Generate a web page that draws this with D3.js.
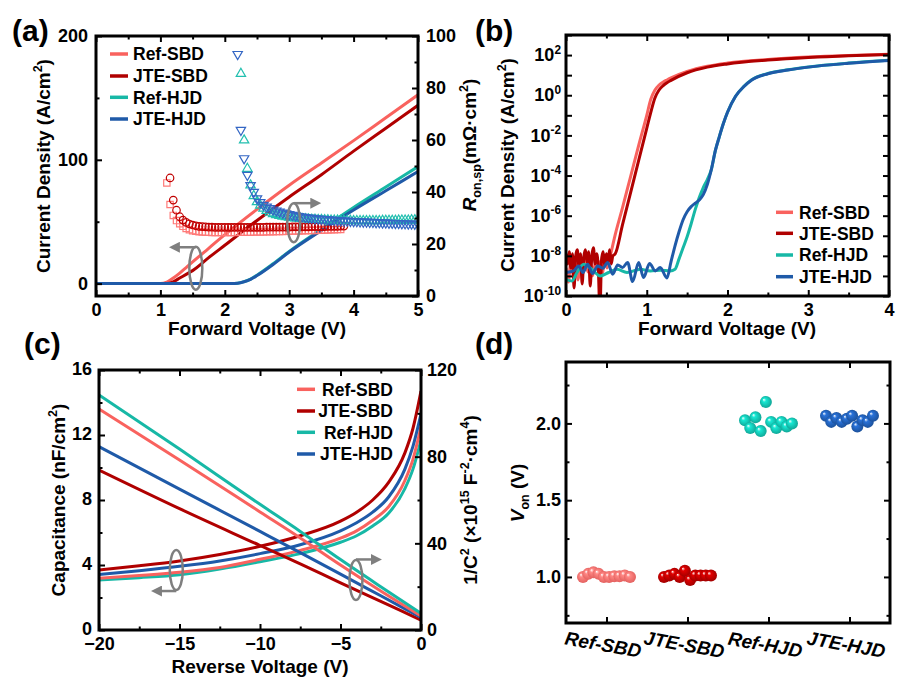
<!DOCTYPE html>
<html>
<head>
<meta charset="utf-8">
<script src="https://cdn.jsdelivr.net/npm/d3@7"></script>
<style>
  body { margin: 0; background: #fff; }
  svg { display: block; }
</style>
</head>
<body>
<svg id="fig" width="908" height="680"></svg>
<script>
// ---- data ----
var devices = ["Ref-SBD", "JTE-SBD", "Ref-HJD", "JTE-HJD"];
var lineColors = ["#F9625E", "#B00000", "#17B8A6", "#1F5AA8"];
var markColors = ["#FF7A78", "#C00000", "#22BFAF", "#3366C4"];

// (a) J-V, linear  [V, J (A/cm2)]
var aJ_RefSBD = [[0,0],[1.0,0],[1.1,1.2],[1.2,4.5],[1.3,8.5],[1.4,13],[1.5,17.5],[1.75,28.5],[2,39.5],[2.5,60],[3,79.5],[3.5,97.5],[4,115.5],[4.5,134],[5,152.5]];
var aJ_JTESBD = [[0,0],[1.1,0],[1.2,1.5],[1.3,4.5],[1.4,7.5],[1.5,10.5],[1.75,21],[2,31],[2.5,51],[3,70],[3.5,88],[4,107],[4.5,125.5],[5,144]];
var aJ_RefHJD = [[0,0],[2.1,0],[2.2,0.3],[2.3,1.6],[2.4,3.7],[2.5,6.8],[2.75,16],[3,26],[3.5,44],[4,61.5],[4.5,78],[5,94.5]];
var aJ_JTEHJD = [[0,0],[2.1,0],[2.2,0.3],[2.3,1.5],[2.4,3.5],[2.5,6.5],[2.75,15.5],[3,25.5],[3.5,43],[4,59.5],[4.5,75],[5,90.5]];

// (a) Ron,sp markers, sampled every 0.05 V from a start voltage
var ronStep = 0.05;
var ronStart = [1.10, 1.15, 2.25, 2.20];
var aRon_RefSBD = [43.5,35.2,31.0,29.0,27.8,26.8,26.0,25.5,25.1,24.9,
  24.7,24.6,24.5,24.5,24.4,24.4,24.4,24.4,24.4,24.4,
  24.4,24.4,24.5,24.5,24.5,24.5,24.5,24.6,24.6,24.6,
  24.6,24.7,24.7,24.7,24.8,24.8,24.8,24.9,24.9,25.0,
  25.0,25.0,25.1,25.1,25.2,25.2,25.2,25.3,25.3,25.4,
  25.4,25.5,25.5,25.6,25.6];
var aRon_JTESBD = [45.4,36.9,33.0,30.5,29.2,28.3,27.7,27.3,27.0,26.8,
  26.7,26.6,26.5,26.5,26.4,26.4,26.4,26.4,26.4,26.4,
  26.4,26.4,26.4,26.4,26.4,26.4,26.4,26.4,26.4,26.4,
  26.5,26.5,26.5,26.5,26.5,26.5,26.5,26.5,26.6,26.6,
  26.6,26.6,26.6,26.6,26.7,26.7,26.7,26.7,26.7,26.8,
  26.8,26.8,26.8,26.9,26.9];
var aRon_RefHJD = [85.5,59.9,49.0,42.6,38.5,36.2,34.8,33.7,32.8,32.1,
  31.6,31.2,30.9,30.6,30.4,30.2,30.0,29.9,29.8,29.7,
  29.6,29.5,29.4,29.4,29.3,29.3,29.2,29.2,29.1,29.1,
  29.1,29.0,29.0,29.0,29.0,28.9,28.9,28.9,28.9,28.9,
  28.9,28.9,28.9,28.9,29.0,29.0,29.0,29.0,29.0,29.1,
  29.1,29.1,29.1,29.2,29.2,29.2];
var aRon_JTEHJD = [93.0,63.8,52.9,46.5,42.6,40.0,37.5,36.0,35.0,34.3,
  33.7,33.2,32.8,32.4,32.0,31.7,31.4,31.1,30.9,30.7,
  30.5,30.3,30.1,30.0,29.8,29.7,29.6,29.5,29.4,29.3,
  29.2,29.1,29.0,28.9,28.9,28.8,28.7,28.7,28.6,28.5,
  28.5,28.4,28.4,28.3,28.3,28.2,28.2,28.1,28.1,28.0,
  28.0,27.9,27.9,27.8,27.8,27.7,27.7];

// (b) J-V, log  [V, log10 J]
var bLog_RefSBD = [[0,-8.6],[0.03,-9.3],[0.06,-8.2],[0.09,-9.0],[0.12,-8.3],[0.15,-9.2],[0.18,-8.4],[0.21,-8.9],[0.24,-8.2],[0.27,-8.8],[0.30,-8.3],[0.33,-9.0],[0.36,-8.4],[0.39,-8.7],[0.42,-8.3],[0.45,-8.9],[0.48,-8.2],[0.51,-8.6],[0.54,-8.1],[0.56,-7.8],
  [0.6,-7.1],[0.7,-5.6],[0.8,-4.05],[0.9,-2.5],[1.0,-1.0],[1.05,-0.2],[1.1,0.25],[1.15,0.5],[1.2,0.65],[1.25,0.76],[1.3,0.86],[1.5,1.18],[1.75,1.44],[2,1.6],[2.5,1.78],[3,1.9],[3.5,1.98],[4,2.04]];
var bLog_JTESBD = [[0,-7.9],[0.02,-8.4],[0.04,-7.8],[0.06,-8.6],[0.08,-7.9],[0.10,-9.6],[0.12,-8.0],[0.14,-7.7],[0.16,-8.5],[0.18,-7.9],[0.20,-9.4],[0.22,-8.1],[0.24,-7.7],[0.26,-8.3],[0.28,-7.8],[0.30,-9.5],[0.32,-8.0],[0.34,-7.6],[0.36,-8.4],[0.38,-7.9],[0.40,-8.6],[0.42,-10.8],[0.44,-8.2],[0.46,-7.8],[0.48,-8.5],[0.50,-7.9],[0.52,-8.3],[0.54,-7.7],[0.56,-8.4],[0.58,-8.0],
  [0.61,-7.9],[0.7,-6.45],[0.8,-4.85],[0.9,-3.25],[1.0,-1.65],[1.05,-0.85],[1.1,-0.15],[1.15,0.25],[1.2,0.47],[1.25,0.62],[1.3,0.74],[1.5,1.12],[1.75,1.4],[2,1.56],[2.5,1.75],[3,1.88],[3.5,1.97],[4,2.03]];
var bLog_RefHJD = [[0,-9.17],[0.074,-9.25],[0.136,-8.83],[0.219,-8.42],[0.32,-8.67],[0.425,-9.0],[0.528,-8.83],[0.63,-8.67],[0.755,-8.83],[0.92,-8.67],[1.044,-8.75],[1.167,-8.72],[1.29,-8.75],[1.35,-8.67],
  [1.4,-8.15],[1.45,-7.6],[1.5,-7.05],[1.55,-6.4],[1.6,-5.7],[1.65,-5.1],[1.7,-4.6],[1.75,-4.2],[1.8,-3.7],[1.85,-2.75],[1.9,-2.05],[1.95,-1.4],[2.0,-0.85],[2.1,-0.05],[2.2,0.43],[2.3,0.77],[2.5,1.08],[2.75,1.27],[3,1.41],[3.5,1.6],[4,1.74]];
var bLog_JTEHJD = [[0,-8.83],[0.095,-8.75],[0.157,-8.5],[0.21,-8.83],[0.268,-8.42],[0.33,-8.88],[0.392,-8.5],[0.454,-8.62],[0.516,-8.33],[0.578,-8.92],[0.64,-8.45],[0.70,-8.58],[0.763,-8.33],[0.825,-9.28],[0.9,-8.33],[0.96,-9.08],[1.035,-8.38],[1.105,-8.75],[1.167,-8.58],[1.25,-9.1],
  [1.3,-8.3],[1.35,-7.5],[1.4,-6.8],[1.45,-6.2],[1.5,-5.8],[1.55,-5.55],[1.6,-5.38],[1.65,-5.22],[1.7,-4.95],[1.75,-4.45],[1.8,-3.7],[1.85,-2.75],[1.9,-2.05],[1.95,-1.4],[2.0,-0.85],[2.1,-0.05],[2.2,0.42],[2.3,0.76],[2.5,1.07],[2.75,1.26],[3,1.4],[3.5,1.59],[4,1.73]];

// (c) C-V and 1/C^2
var cV_cap = [-20,-17.5,-15,-12.5,-10,-7.5,-5,-4,-3,-2,-1,-0.5,0];
var cCap_RefSBD = [3.18,3.35,3.55,3.85,4.35,4.9,5.65,6.1,6.75,7.6,9.2,10.5,12.5];
var cCap_JTESBD = [3.69,3.95,4.25,4.65,5.15,5.8,6.7,7.25,8.0,9.1,10.9,12.4,14.7];
var cCap_RefHJD = [3.08,3.22,3.4,3.75,4.2,4.7,5.4,5.8,6.4,7.2,8.7,9.9,11.7];
var cCap_JTEHJD = [3.42,3.65,3.92,4.25,4.7,5.25,6.1,6.6,7.25,8.2,9.9,11.3,13.3];
var cV_inv = [-20,-15,-10,-7.5,-5,-2.5,0];
var cInv_RefSBD = [102,78.5,54.5,42.5,30,18,6.5];
var cInv_JTESBD = [73.8,56,39,30.5,21.8,13.2,4.6];
var cInv_RefHJD = [108.5,83.5,58,45.5,32.5,20,7.7];
var cInv_JTEHJD = [84.6,65,45.5,35.7,25.8,15.8,5.8];

// (d) Von per device, samples left to right
var dVon_RefSBD = [1.00,1.02,1.03,1.02,1.00,1.00,1.005,1.005,1.01,1.00];
var dVon_JTESBD = [1.00,1.01,1.02,1.00,1.04,0.98,1.01,1.01,1.01,1.01];
var dVon_RefHJD = [2.02,1.97,2.04,1.95,2.14,2.01,1.97,2.01,1.98,2.00];
var dVon_JTEHJD = [2.05,2.01,2.035,2.01,2.03,2.05,1.98,2.02,2.01,2.05];

// ---- drawing ----
var FONT = "'Liberation Sans', Arial, Helvetica, sans-serif";
var GREY = "#7f7f7f";
var svg = d3.select("#fig");
svg.append("rect").attr("width", 908).attr("height", 680).attr("fill", "#fff");
var defs = svg.append("defs");

defs.append("marker").attr("id", "arr")
  .attr("viewBox", "0 0 10 10").attr("refX", 6).attr("refY", 5)
  .attr("markerWidth", 11).attr("markerHeight", 11)
  .attr("markerUnits", "userSpaceOnUse").attr("orient", "auto")
  .append("path").attr("d", "M0,0L10,5L0,10Z").attr("fill", GREY);

function panel(id, x0, x1, y0, y1){
  defs.append("clipPath").attr("id", "clip-" + id)
    .append("rect").attr("x", x0).attr("y", y0).attr("width", x1 - x0).attr("height", y1 - y0);
  var g = svg.append("g");
  var plot = g.append("g").attr("clip-path", "url(#clip-" + id + ")");
  return {g: g, plot: plot, box: [x0, x1, y0, y1]};
}

function frame(p){
  var b = p.box;
  p.g.append("rect").attr("x", b[0]).attr("y", b[2]).attr("width", b[1] - b[0]).attr("height", b[3] - b[2])
    .attr("fill", "none").attr("stroke", "#000").attr("stroke-width", 3);
}

function axis(g, orient, scale, major, minor, fmt, offset, pad){
  var maker = {bottom: d3.axisBottom, top: d3.axisTop, left: d3.axisLeft, right: d3.axisRight}[orient];
  var horiz = (orient === "bottom" || orient === "top");
  var tr = horiz ? "translate(0," + offset + ")" : "translate(" + offset + ",0)";
  var a = g.append("g").attr("transform", tr);
  a.call(maker(scale).tickValues(major).tickSize(-6).tickPadding(pad || 7)
    .tickFormat(fmt || function(){ return ""; }));
  if(minor){
    a.append("g").call(maker(scale).tickValues(minor).tickSize(-3.5).tickFormat(function(){ return ""; }));
  }
  a.selectAll(".domain").remove();
  a.selectAll("line").attr("stroke", "#000").attr("stroke-width", 2);
  a.selectAll("text").attr("font-family", FONT).attr("font-size", 18)
    .attr("font-weight", "bold").attr("fill", "#000");
  return a;
}

function richText(sel, parts, fs){
  var shift = 0;
  parts.forEach(function(p){
    if(typeof p === "string") p = {t: p};
    var ts = sel.append("tspan").text(p.t);
    var target = 0;
    if(p.sup){ target = -fs * 0.42; ts.attr("font-size", fs * 0.66); }
    if(p.sub){ target = fs * 0.28; ts.attr("font-size", fs * 0.66); }
    if(p.i) ts.attr("font-style", "italic");
    if(target !== shift){ ts.attr("dy", target - shift); shift = target; }
  });
}

function title(x, y, rot, parts, fs){
  fs = fs || 19;
  var t = svg.append("text").attr("font-family", FONT).attr("font-size", fs)
    .attr("font-weight", "bold").attr("text-anchor", "middle")
    .attr("transform", "translate(" + x + "," + y + ")" + (rot ? " rotate(" + rot + ")" : ""));
  richText(t, parts, fs);
  return t;
}

function label(x, y, s){
  svg.append("text").attr("x", x).attr("y", y).attr("font-family", FONT)
    .attr("font-size", 30).attr("font-weight", "bold").text(s);
}

function legend(g, x, ys, textX, anchor){
  devices.forEach(function(d, i){
    g.append("line").attr("x1", x[0]).attr("x2", x[1]).attr("y1", ys[i]).attr("y2", ys[i])
      .attr("stroke", lineColors[i]).attr("stroke-width", 3.5);
    g.append("text").attr("x", textX).attr("y", ys[i]).attr("dy", "0.36em")
      .attr("text-anchor", anchor || "start").attr("font-family", FONT)
      .attr("font-size", 17.5).attr("font-weight", "bold").text(d);
  });
}

function twist(g, cx, cy, ry, arrowY, arrowX2){
  g.append("ellipse").attr("cx", cx).attr("cy", cy).attr("rx", 6.5).attr("ry", ry)
    .attr("fill", "none").attr("stroke", GREY).attr("stroke-width", 2.5);
  g.append("line").attr("x1", cx).attr("y1", arrowY).attr("x2", arrowX2).attr("y2", arrowY)
    .attr("stroke", GREY).attr("stroke-width", 2.5).attr("marker-end", "url(#arr)");
}

// ===== (a) =====
var pa = panel("a", 96, 418, 36, 296);
var ax = d3.scaleLinear([0, 5], [96, 418]);
var ayL = d3.scaleLinear([-10, 200], [296, 36]);
var ayR = d3.scaleLinear([0, 100], [296, 36]);

var aLines = [aJ_RefSBD, aJ_JTESBD, aJ_RefHJD, aJ_JTEHJD];
var aLine = d3.line().x(function(d){ return ax(d[0]); }).y(function(d){ return ayL(d[1]); }).curve(d3.curveMonotoneX);
aLines.forEach(function(s, i){
  pa.plot.append("path").datum(s).attr("d", aLine).attr("fill", "none")
    .attr("stroke", lineColors[i]).attr("stroke-width", 3);
});

var aRon = [aRon_RefSBD, aRon_JTESBD, aRon_RefHJD, aRon_JTEHJD];
var symTypes = [d3.symbolSquare, d3.symbolCircle, d3.symbolTriangle, d3.symbolTriangle];
var symSizes = [40, 44, 38, 38];
aRon.forEach(function(vals, i){
  var sym = d3.symbol().type(symTypes[i]).size(symSizes[i]);
  pa.plot.append("g").selectAll("path").data(vals).enter().append("path")
    .attr("d", sym)
    .attr("transform", function(v, k){
      return "translate(" + ax(ronStart[i] + k * ronStep) + "," + ayR(v) + ")" + (i === 3 ? " rotate(180)" : "");
    })
    .attr("fill", "none").attr("stroke", markColors[i]).attr("stroke-width", 1.2);
});

axis(pa.g, "bottom", ax, d3.range(0, 6), d3.range(0.5, 5, 1), d3.format("d"), 296, 7);
axis(pa.g, "top", ax, d3.range(0, 6), d3.range(0.5, 5, 1), null, 36);
axis(pa.g, "left", ayL, [0, 100, 200], [50, 150], d3.format("d"), 96, 8);
axis(pa.g, "right", ayR, d3.range(0, 101, 20), d3.range(10, 100, 20), d3.format("d"), 418, 8);
legend(pa.g, [110, 128], [54, 76, 97.3, 119], 133);
twist(pa.g, ax(1.55), ayL(12.4), 21.5, ayL(12.4) - 21, ax(1.2));
twist(pa.g, ax(3.07), ayR(28.2), 19.5, ayR(28.2) - 19.5, ax(3.43));
frame(pa);

label(12, 41, "(a)");
title(50, 166, -90, ["Current Density (A/cm", {t: "2", sup: true}, ")"]);
title(476, 145, -90, [{t: "R", i: true}, {t: "on,sp", sub: true}, "(mΩ·cm", {t: "2", sup: true}, ")"]);
title(257, 335, 0, ["Forward Voltage (V)"]);

// ===== (b) =====
var pb = panel("b", 566, 889, 35, 296);
var bx = d3.scaleLinear([0, 4], [566, 889]);
var by = d3.scaleLog([1e-10, 1e3], [296, 35]);
var bLine = d3.line().x(function(d){ return bx(d[0]); }).y(function(d){ return by(Math.pow(10, d[1])); }).curve(d3.curveMonotoneX);
[bLog_RefSBD, bLog_JTESBD, bLog_RefHJD, bLog_JTEHJD].forEach(function(s, i){
  pb.plot.append("path").datum(s).attr("d", bLine).attr("fill", "none")
    .attr("stroke", lineColors[i]).attr("stroke-width", 3).attr("stroke-linejoin", "round");
});
var decades = d3.range(-10, 4).map(function(e){ return Math.pow(10, e); });
axis(pb.g, "bottom", bx, d3.range(0, 5), d3.range(0.5, 4, 1), d3.format("d"), 296, 7);
axis(pb.g, "top", bx, d3.range(0, 5), d3.range(0.5, 4, 1), null, 35);
var bl = axis(pb.g, "left", by, decades, null, function(d){
  var e = Math.round(Math.log10(d));
  return (e % 2 === 0 && e <= 2) ? String(e) : "";
}, 566, 5);
bl.selectAll(".tick text").each(function(){
  var t = d3.select(this);
  var e = t.text();
  if(!e) return;
  t.text("");
  richText(t, ["10", {t: e, sup: true}], 18);
});
axis(pb.g, "right", by, decades, null, null, 889);
legend(pb.g, [776, 793], [212.3, 233.3, 255, 276.7], 799);
frame(pb);

label(475, 41, "(b)");
title(514, 165, -90, ["Current Density (A/cm", {t: "2", sup: true}, ")"]);
title(727, 335, 0, ["Forward Voltage (V)"]);

// ===== (c) =====
var pc = panel("c", 99, 421, 370, 630);
var cx = d3.scaleLinear([-20, 0], [99, 421]);
var cyL = d3.scaleLinear([0, 16], [630, 370]);
var cyR = d3.scaleLinear([0, 120], [630, 370]);
var capSets = [cCap_RefSBD, cCap_JTESBD, cCap_RefHJD, cCap_JTEHJD];
var invSets = [cInv_RefSBD, cInv_JTESBD, cInv_RefHJD, cInv_JTEHJD];
var capLine = d3.line().x(function(d, k){ return cx(cV_cap[k]); }).y(function(d){ return cyL(d); }).curve(d3.curveMonotoneX);
var invLine = d3.line().x(function(d, k){ return cx(cV_inv[k]); }).y(function(d){ return cyR(d); }).curve(d3.curveMonotoneX);
[2, 0, 3, 1].forEach(function(i){
  pc.plot.append("path").datum(capSets[i]).attr("d", capLine).attr("fill", "none")
    .attr("stroke", lineColors[i]).attr("stroke-width", 3);
});
[1, 3, 0, 2].forEach(function(i){
  pc.plot.append("path").datum(invSets[i]).attr("d", invLine).attr("fill", "none")
    .attr("stroke", lineColors[i]).attr("stroke-width", 3);
});
axis(pc.g, "bottom", cx, [-20, -15, -10, -5, 0], [-17.5, -12.5, -7.5, -2.5], d3.format("d"), 630, 7);
axis(pc.g, "top", cx, [-20, -15, -10, -5, 0], [-17.5, -12.5, -7.5, -2.5], null, 370);
var cl = axis(pc.g, "left", cyL, [0, 4, 8, 12, 16], [2, 6, 10, 14], d3.format("d"), 99, 7);
cl.selectAll(".tick text").attr("dy", "0.25em");
axis(pc.g, "right", cyR, [0, 40, 80, 120], [20, 60, 100], d3.format("d"), 421, 6);
legend(pc.g, [297, 315], [389.3, 411, 432.3, 454], 393, "end");
twist(pc.g, cx(-15.2), cyL(3.69), 20, cyL(3.69) + 21, cx(-16.5));
twist(pc.g, cx(-4.04), cyR(23.1), 20, cyR(23.1) - 20.5, cx(-2.7));
frame(pc);

label(24, 354, "(c)");
title(65, 500, -90, ["Capacitance (nF/cm", {t: "2", sup: true}, ")"]);
title(477, 500, -90, ["1/C", {t: "2", sup: true}, " (×10", {t: "15", sup: true}, " F", {t: "-2", sup: true}, "·cm", {t: "4", sup: true}, ")"]);
title(260, 673, 0, ["Reverse Voltage (V)"]);

// ===== (d) =====
var pd = panel("d", 566, 890, 362, 623);
var dx = d3.scalePoint(devices, [566, 890]).padding(0.5);
var dy = d3.scaleLinear([0.7, 2.4], [623, 362]);
var sphereColors = ["#FF6A68", "#B00000", "#12B5A4", "#1F58A8"];
sphereColors.forEach(function(c, i){
  var gr = defs.append("radialGradient").attr("id", "sph" + i)
    .attr("cx", "50%").attr("cy", "50%").attr("r", "55%").attr("fx", "32%").attr("fy", "30%");
  gr.append("stop").attr("offset", "0%").attr("stop-color", "#ffffff");
  gr.append("stop").attr("offset", "28%").attr("stop-color", d3.color(c).brighter(0.7).formatHex());
  gr.append("stop").attr("offset", "100%").attr("stop-color", d3.color(c).darker(0.35).formatHex());
});
var dSets = [dVon_RefSBD, dVon_JTESBD, dVon_RefHJD, dVon_JTEHJD];
var spread = dx.step() * 0.58;
dSets.forEach(function(vals, i){
  pd.plot.append("g").selectAll("circle").data(vals).enter().append("circle")
    .attr("cx", function(v, k){ return dx(devices[i]) + (k / (vals.length - 1) - 0.5) * spread; })
    .attr("cy", function(v){ return dy(v); })
    .attr("r", 6)
    .attr("fill", "url(#sph" + i + ")");
});
var db = axis(pd.g, "bottom", dx, devices, null, function(d){ return d; }, 623, 15);
db.selectAll(".tick text").attr("font-style", "italic").attr("font-size", 19).attr("transform", "rotate(10)");
axis(pd.g, "top", dx, devices, null, null, 362);
axis(pd.g, "left", dy, [1.0, 1.5, 2.0], [0.75, 1.25, 1.75, 2.25], d3.format(".1f"), 566, 5);
axis(pd.g, "right", dy, [1.0, 1.5, 2.0], [0.75, 1.25, 1.75, 2.25], null, 890);
frame(pd);

label(475, 354, "(d)");
title(524, 493, -90, [{t: "V", i: true}, {t: "on", sub: true}, " (V)"]);
</script>
</body>
</html>
